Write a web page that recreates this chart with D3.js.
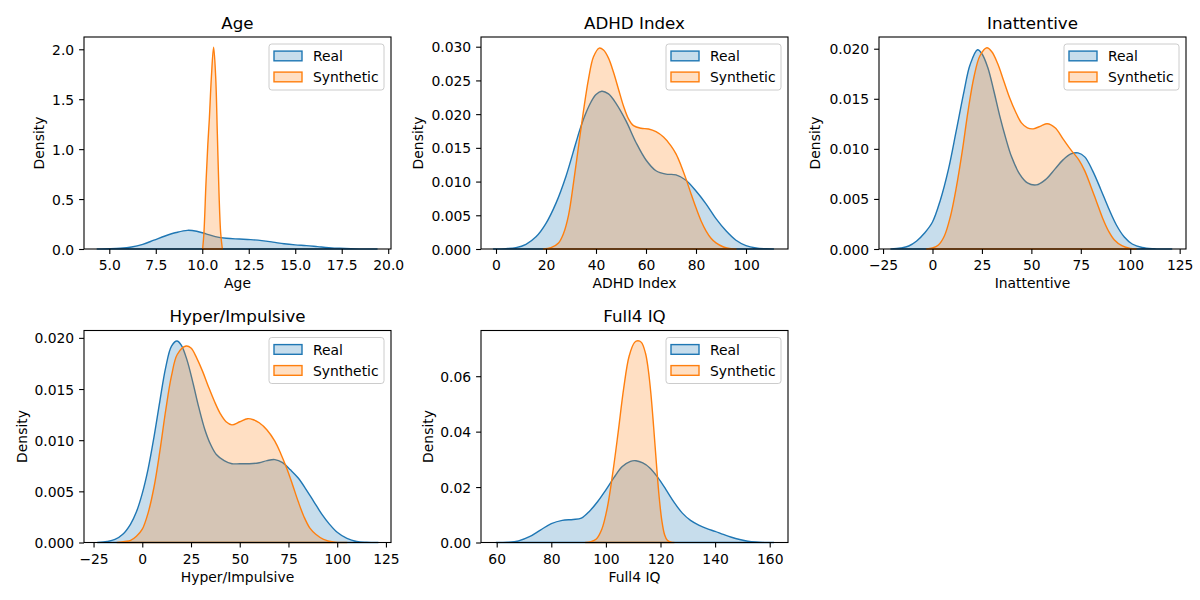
<!DOCTYPE html>
<html><head><meta charset="utf-8">
<script src="https://cdn.jsdelivr.net/npm/d3@7"></script>
<style>
body{margin:0;background:#fff}
svg{display:block}
text{font-family:"DejaVu Sans",sans-serif;fill:#000}
</style>
</head><body>
<svg id="chart" width="1200" height="600"></svg>
<script>
// ---------- data (x, density) ----------
const titles = ["Age", "ADHD Index", "Inattentive", "Hyper/Impulsive", "Full4 IQ"];
const seriesNames = ["Real", "Synthetic"];

const ageReal = [[4.35,0],[5,0.002],[5.6,0.007],[6.2,0.02],[6.8,0.047],[7.4,0.088],[8,0.13],[8.6,0.165],[9.2,0.187],[9.7,0.178],[10.2,0.152],[10.7,0.124],[11.3,0.107],[12,0.1],[12.6,0.094],[13.2,0.084],[13.8,0.069],[14.4,0.052],[15,0.041],[15.6,0.034],[16.2,0.024],[16.8,0.014],[17.4,0.007],[18,0.003],[18.7,0.001],[19.4,0]];
const ageSynth = [[10.02,0],[10.09,0.16],[10.2,0.66],[10.3,1.05],[10.38,1.3],[10.49,1.72],[10.61,2.02],[10.72,1.73],[10.81,1.16],[10.9,0.56],[10.99,0.16],[11.08,0]];

const adhdReal = [[-1,0],[4,0.00005],[8,0.0002],[12,0.0007],[16,0.0018],[20,0.0038],[24,0.0068],[28,0.0108],[32,0.0158],[34,0.0182],[36,0.0202],[38,0.0218],[40,0.0229],[42.3,0.0234],[45,0.023],[48,0.0216],[52,0.019],[56,0.0158],[60,0.0132],[64,0.0116],[68,0.0111],[72,0.011],[76,0.0102],[80,0.0086],[84,0.0067],[88,0.0045],[92,0.0027],[96,0.0013],[100,0.0005],[104,0.00015],[108,0.00003],[111,0]];
const adhdSynth = [[19,0],[22,0.0002],[25,0.0009],[27,0.0023],[29,0.005],[31,0.0098],[33,0.0152],[35,0.0205],[37,0.0252],[39,0.0285],[41.3,0.0298],[43,0.0295],[45,0.0283],[47,0.0262],[49,0.0237],[51,0.0212],[53,0.0193],[55,0.0183],[58,0.0179],[61,0.0178],[64,0.0174],[67,0.0166],[70,0.0153],[72,0.0141],[74,0.0124],[76,0.0104],[78,0.0082],[80,0.0061],[82,0.0042],[84,0.0027],[86,0.0016],[88,0.0009],[91,0.0003],[94,0.00005],[96,0]];

const inatReal = [[-21,0],[-16,0.0001],[-12,0.0003],[-8,0.0008],[-4,0.0016],[0,0.0027],[4,0.0049],[8,0.0079],[12,0.0118],[16,0.0158],[19,0.0184],[22.8,0.0199],[25,0.0195],[28,0.0181],[31,0.0158],[34,0.0133],[37,0.0111],[40,0.0092],[44,0.0075],[48,0.0066],[52.5,0.0064],[57,0.0069],[62,0.008],[66,0.0089],[70,0.0095],[73.6,0.0096],[77,0.0092],[81,0.0078],[85,0.006],[89,0.0041],[93,0.0024],[97,0.0012],[101,0.0005],[106,0.00015],[112,0.00003],[121,0]];
const inatSynth = [[-3,0],[0,0.0001],[3,0.0004],[6,0.0013],[9,0.0032],[12,0.0061],[15,0.0097],[18,0.0138],[21,0.0172],[24,0.0193],[27.5,0.0201],[30,0.0197],[33,0.0185],[36,0.0168],[39,0.0151],[42,0.0137],[45,0.0126],[48,0.0121],[51,0.012],[55,0.0123],[58,0.0125],[62,0.0121],[66,0.011],[70,0.0099],[74,0.0089],[77,0.0078],[80,0.0063],[83,0.0047],[86,0.0031],[89,0.0018],[92,0.0009],[96,0.0003],[100,0.00005],[103,0]];

const hyperReal = [[-23,0],[-18,0.0001],[-14,0.0003],[-10,0.0008],[-6,0.0018],[-3,0.003],[0,0.0048],[3,0.0072],[6,0.0103],[9,0.0138],[12,0.0171],[15,0.0192],[17.8,0.0197],[20,0.0193],[23,0.0178],[26,0.0156],[29,0.0132],[32,0.0111],[35,0.0096],[38,0.0086],[42,0.008],[46,0.0077],[50,0.0077],[55,0.0077],[60,0.0078],[64,0.008],[68,0.0081],[72,0.0078],[76,0.0071],[80,0.0063],[84,0.0052],[88,0.004],[92,0.0028],[96,0.0018],[100,0.001],[105,0.0004],[110,0.0001],[115,0.00002],[121,0]];
const hyperSynth = [[-13,0],[-9,0.0001],[-6,0.0002],[-3,0.0006],[0,0.0013],[3,0.0029],[6,0.0054],[9,0.0089],[12,0.0129],[15,0.0163],[18,0.0184],[22.5,0.0192],[25,0.019],[28,0.018],[31,0.0167],[34,0.0152],[37,0.0138],[40,0.0126],[43,0.0118],[46,0.0115],[50,0.0118],[54,0.0121],[57,0.012],[60,0.0117],[64,0.011],[68,0.0099],[71,0.0087],[74,0.0073],[77,0.0057],[80,0.004],[83,0.0025],[86,0.0014],[89,0.0008],[93,0.0003],[98,0.00005],[105,0]];

const iqReal = [[59.8,0],[64,0.0001],[68,0.0006],[72,0.0021],[76,0.0045],[80,0.0068],[84,0.008],[88,0.0083],[91,0.0088],[94,0.0113],[97,0.0148],[100,0.019],[103,0.0235],[106,0.0274],[109,0.0293],[111,0.0295],[113.5,0.0287],[116,0.027],[119,0.0235],[122,0.0191],[125,0.0145],[128,0.0106],[131,0.008],[134,0.0063],[137,0.005],[140,0.004],[143,0.0029],[146,0.0019],[149,0.0011],[152,0.0005],[155,0.0002],[158,0.00005],[161.5,0]];
const iqSynth = [[92.5,0],[94.5,0.0003],[96.5,0.0013],[98.5,0.0048],[100.5,0.0125],[102.5,0.025],[104.5,0.0398],[106.5,0.0555],[108.5,0.0672],[110.5,0.0722],[111.7,0.0728],[113,0.0722],[114.5,0.0683],[115.5,0.0625],[116.5,0.0535],[117.5,0.0415],[118.5,0.0285],[119.5,0.0165],[120.5,0.0078],[121.5,0.0028],[122.5,0.0008],[124,0.0001],[125,0]];

// tick values
const ageXTicks = [5, 7.5, 10, 12.5, 15, 17.5, 20];
const ageYTicks = [0, 0.5, 1.0, 1.5, 2.0];
const adhdXTicks = [0, 20, 40, 60, 80, 100];
const adhdYTicks = [0, 0.005, 0.010, 0.015, 0.020, 0.025, 0.030];
const scoreXTicks = [-25, 0, 25, 50, 75, 100, 125];
const inatYTicks = [0, 0.005, 0.010, 0.015, 0.020];
const hyperYTicks = [0, 0.005, 0.010, 0.015, 0.020];
const iqXTicks = [60, 80, 100, 120, 140, 160];
const iqYTicks = [0, 0.02, 0.04, 0.06];

// ---------- layout / styling ----------
const colors = ["#1f77b4", "#ff7f0e"];
const FS = 13.9;
const W = 307, H = 212;
const panels = [
  {title: titles[0], real: ageReal, synth: ageSynth, xd: [3.64, 20.15], yd: [0, 2.123], xt: ageXTicks, yt: ageYTicks, xf: d3.format(".1f"), yf: d3.format(".1f"), left: 84, top: 37, ylx: -44.7},
  {title: titles[1], real: adhdReal, synth: adhdSynth, xd: [-6.0, 116.8], yd: [0, 0.03144], xt: adhdXTicks, yt: adhdYTicks, xf: d3.format("d"), yf: d3.format(".3f"), left: 481, top: 37, ylx: -62.7},
  {title: titles[2], real: inatReal, synth: inatSynth, xd: [-27.05, 128.2], yd: [0, 0.02117], xt: scoreXTicks, yt: inatYTicks, xf: d3.format("d"), yf: d3.format(".3f"), left: 879, top: 37, ylx: -64},
  {title: titles[3], real: hyperReal, synth: hyperSynth, xd: [-29.9, 127.6], yd: [0, 0.02072], xt: scoreXTicks, yt: hyperYTicks, xf: d3.format("d"), yf: d3.format(".3f"), left: 84, top: 330.5, ylx: -62.3},
  {title: titles[4], real: iqReal, synth: iqSynth, xd: [54.25, 166.7], yd: [0, 0.07649], xt: iqXTicks, yt: iqYTicks, xf: d3.format("d"), yf: d3.format(".2f"), left: 481, top: 330.5, ylx: -53.3}
];

const svg = d3.select("#chart");
svg.append("rect").attr("width", 1200).attr("height", 600).attr("fill", "#fff");

panels.forEach(p => {
  const g = svg.append("g").attr("transform", `translate(${p.left},${p.top})`);
  const x = d3.scaleLinear().domain(p.xd).range([0, W]);
  const y = d3.scaleLinear().domain(p.yd).range([H, 0]);
  const area = d3.area().x(d => x(d[0])).y0(y(0)).y1(d => Math.min(y(0), y(d[1])))
    .curve(d3.curveCatmullRom.alpha(0.5));

  [p.real, p.synth].forEach((s, i) => {
    g.append("path").attr("d", area(s))
      .attr("fill", colors[i]).attr("fill-opacity", 0.25)
      .attr("stroke", colors[i]).attr("stroke-width", 1.4).attr("stroke-linejoin", "round");
  });

  // x axis
  const xa = g.append("g").attr("transform", `translate(0,${H})`)
    .call(d3.axisBottom(x).tickValues(p.xt).tickFormat(p.xf).tickSize(4.9).tickPadding(4.9));
  // y axis
  const ya = g.append("g")
    .call(d3.axisLeft(y).tickValues(p.yt).tickFormat(p.yf).tickSize(4.9).tickPadding(4.9));
  [xa, ya].forEach(a => {
    a.select(".domain").remove();
    a.selectAll(".tick line").attr("stroke", "#000").attr("stroke-width", 1.1);
    a.selectAll(".tick text").attr("font-size", FS).attr("font-family", "DejaVu Sans").attr("fill", "#000");
  });
  xa.selectAll(".tick text").attr("dy", null).attr("y", 21).attr("dominant-baseline", null);
  ya.selectAll(".tick text").attr("dy", "0.36em");

  // spines
  g.append("rect").attr("width", W).attr("height", H)
    .attr("fill", "none").attr("stroke", "#000").attr("stroke-width", 1.1);

  // title & labels
  g.append("text").attr("x", W / 2).attr("y", -8.3).attr("text-anchor", "middle")
    .attr("font-size", 16.7).text(p.title);
  g.append("text").attr("x", W / 2).attr("y", H + 39).attr("text-anchor", "middle")
    .attr("font-size", FS).text(p.title);
  g.append("text").attr("transform", `translate(${p.ylx},${H / 2}) rotate(-90)`)
    .attr("text-anchor", "middle").attr("dy", "0.35em").attr("font-size", FS).text("Density");

  // legend
  const lw = 115, lh = 46;
  const lg = g.append("g").attr("transform", `translate(${W - 7 - lw},7)`);
  lg.append("rect").attr("width", lw).attr("height", lh).attr("rx", 2.8)
    .attr("fill", "#fff").attr("fill-opacity", 0.8).attr("stroke", "#cccccc").attr("stroke-width", 1);
  seriesNames.forEach((n, i) => {
    const cy = 12 + i * 21;
    lg.append("rect").attr("x", 5).attr("y", cy - 4.9).attr("width", 28).attr("height", 9.7)
      .attr("fill", colors[i]).attr("fill-opacity", 0.25).attr("stroke", colors[i]).attr("stroke-width", 1.4);
    lg.append("text").attr("x", 44).attr("y", cy).attr("dy", "0.36em").attr("font-size", FS).text(n);
  });
});
</script>
</body></html>
